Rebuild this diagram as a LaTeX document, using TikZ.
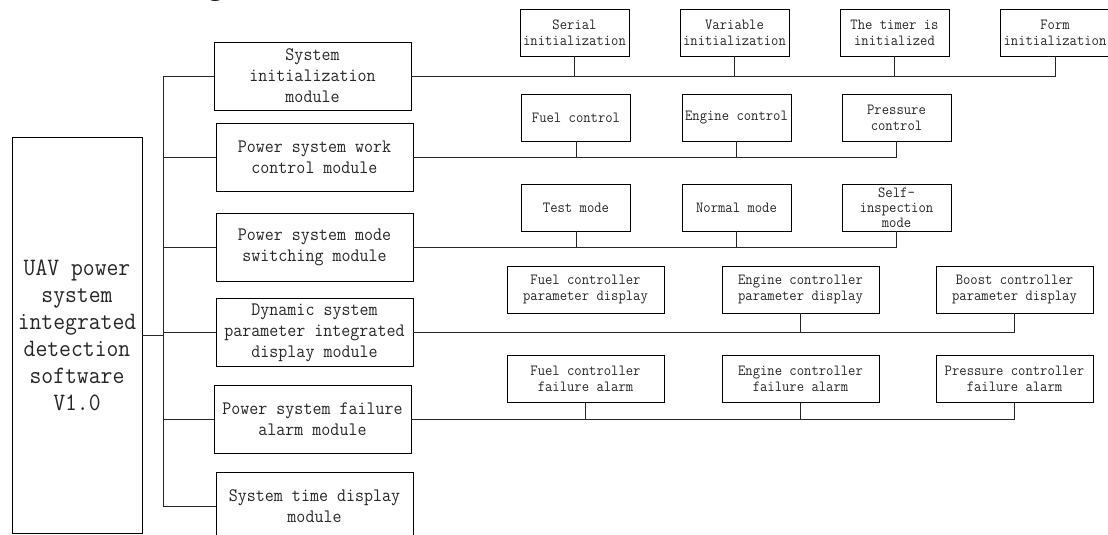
\documentclass[tikz,border=0pt]{standalone}
\usepackage{fontspec}
\newfontfamily\cnmono[FakeStretch=0.92]{Latin Modern Mono}
\newfontfamily\bodyserif{Liberation Serif}
\begin{document}
\begin{tikzpicture}[x=1pt,y=-1pt,line width=0.9pt,
  box/.style={draw,inner sep=0pt,align=center,text=black!85},
  mainbox/.style={box,minimum width=130pt,minimum height=396pt,font=\cnmono\fontsize{25}{27}\selectfont},
  modbox/.style={box,minimum width=197pt,minimum height=68pt,font=\cnmono\fontsize{19}{21}\selectfont},
  sbox/.style={box,minimum width=109pt,minimum height=47pt,font=\cnmono\fontsize{15.5}{16}\selectfont},
  wbox/.style={box,minimum width=157pt,minimum height=47pt,font=\cnmono\fontsize{15.5}{16}\selectfont},
  link/.style={draw=black!85}]
\useasboundingbox (0,0) rectangle (1108,535);
\clip (0,0) rectangle (1108,535);
\node[anchor=base east,inner sep=0pt,font=\bodyserif\fontsize{32}{32}\selectfont] (top) at (232,-5) {other fault warning.};
% main
\node[mainbox] (main) at (77,335) {UAV power\\system\\integrated\\detection\\software\\V1.0};
% modules
\node[modbox] (m1) at (312.5,76) {System\\initialization\\module};
\node[modbox] (m2) at (314.5,157) {Power system work\\control module};
\node[modbox] (m3) at (314.5,247) {Power system mode\\switching module};
\node[modbox] (m4) at (314.5,332.5) {Dynamic system\\parameter integrated\\display module};
\node[modbox] (m5) at (312.5,419.5) {Power system failure\\alarm module};
\node[modbox] (m6) at (314.5,506) {System time display\\module};
% row 1
\node[sbox] (a1) at (574.5,32.5) {Serial\\initialization};
\node[sbox] (a2) at (734.5,32.5) {Variable\\initialization};
\node[sbox] (a3) at (894.5,32.5) {The timer is\\initialized};
\node[sbox] (a4) at (1055,32.5) {Form\\initialization};
% row 2
\node[sbox] (b1) at (576,117.5) {Fuel control};
\node[sbox] (b2) at (736.5,117.5) {Engine control};
\node[sbox] (b3) at (896.5,117.5) {Pressure\\control};
% row 3
\node[sbox] (c1) at (576,207.5) {Test mode};
\node[sbox] (c2) at (736.5,207.5) {Normal mode};
\node[sbox,font=\cnmono\fontsize{15.5}{15}\selectfont] (c3) at (896.5,207.5) {Self-\\inspection\\mode};
% row 4
\node[wbox] (d1) at (585.5,289.5) {Fuel controller\\parameter display};
\node[wbox] (d2) at (800.5,289.5) {Engine controller\\parameter display};
\node[wbox] (d3) at (1014.5,289.5) {Boost controller\\parameter display};
% row 5
\node[wbox] (e1) at (585.5,379) {Fuel controller\\failure alarm};
\node[wbox] (e2) at (800.5,379) {Engine controller\\failure alarm};
\node[wbox] (e3) at (1014.5,379) {Pressure controller\\failure alarm};
% trunk
\draw[link] (main.east) -- ++(21,0) coordinate (t);
\draw[link] (m1.west) -- (m1.west -| t) -- (m6.west -| t) -- (m6.west);
\foreach \m in {m2,m3,m4,m5} \draw[link] (\m.west) -- (\m.west -| t);
% row connectors
\draw[link] (m1.east) -| (a4.south);
\foreach \n in {a1,a2,a3} \draw[link] (\n.south) -- (\n.south |- m1.east);
\draw[link] (m2.east) -| (b3.south);
\foreach \n in {b1,b2} \draw[link] (\n.south) -- (\n.south |- m2.east);
\draw[link] (m3.east) -| (c3.south);
\foreach \n in {c1,c2} \draw[link] (\n.south) -- (\n.south |- m3.east);
\draw[link] (m4.east) -| (d3.south);
\draw[link] (d2.south) -- (d2.south |- m4.east);
\draw[link] (m5.east) -| (e3.south);
\foreach \n in {e1,e2} \draw[link] (\n.south) -- (\n.south |- m5.east);
\end{tikzpicture}
\end{document}
